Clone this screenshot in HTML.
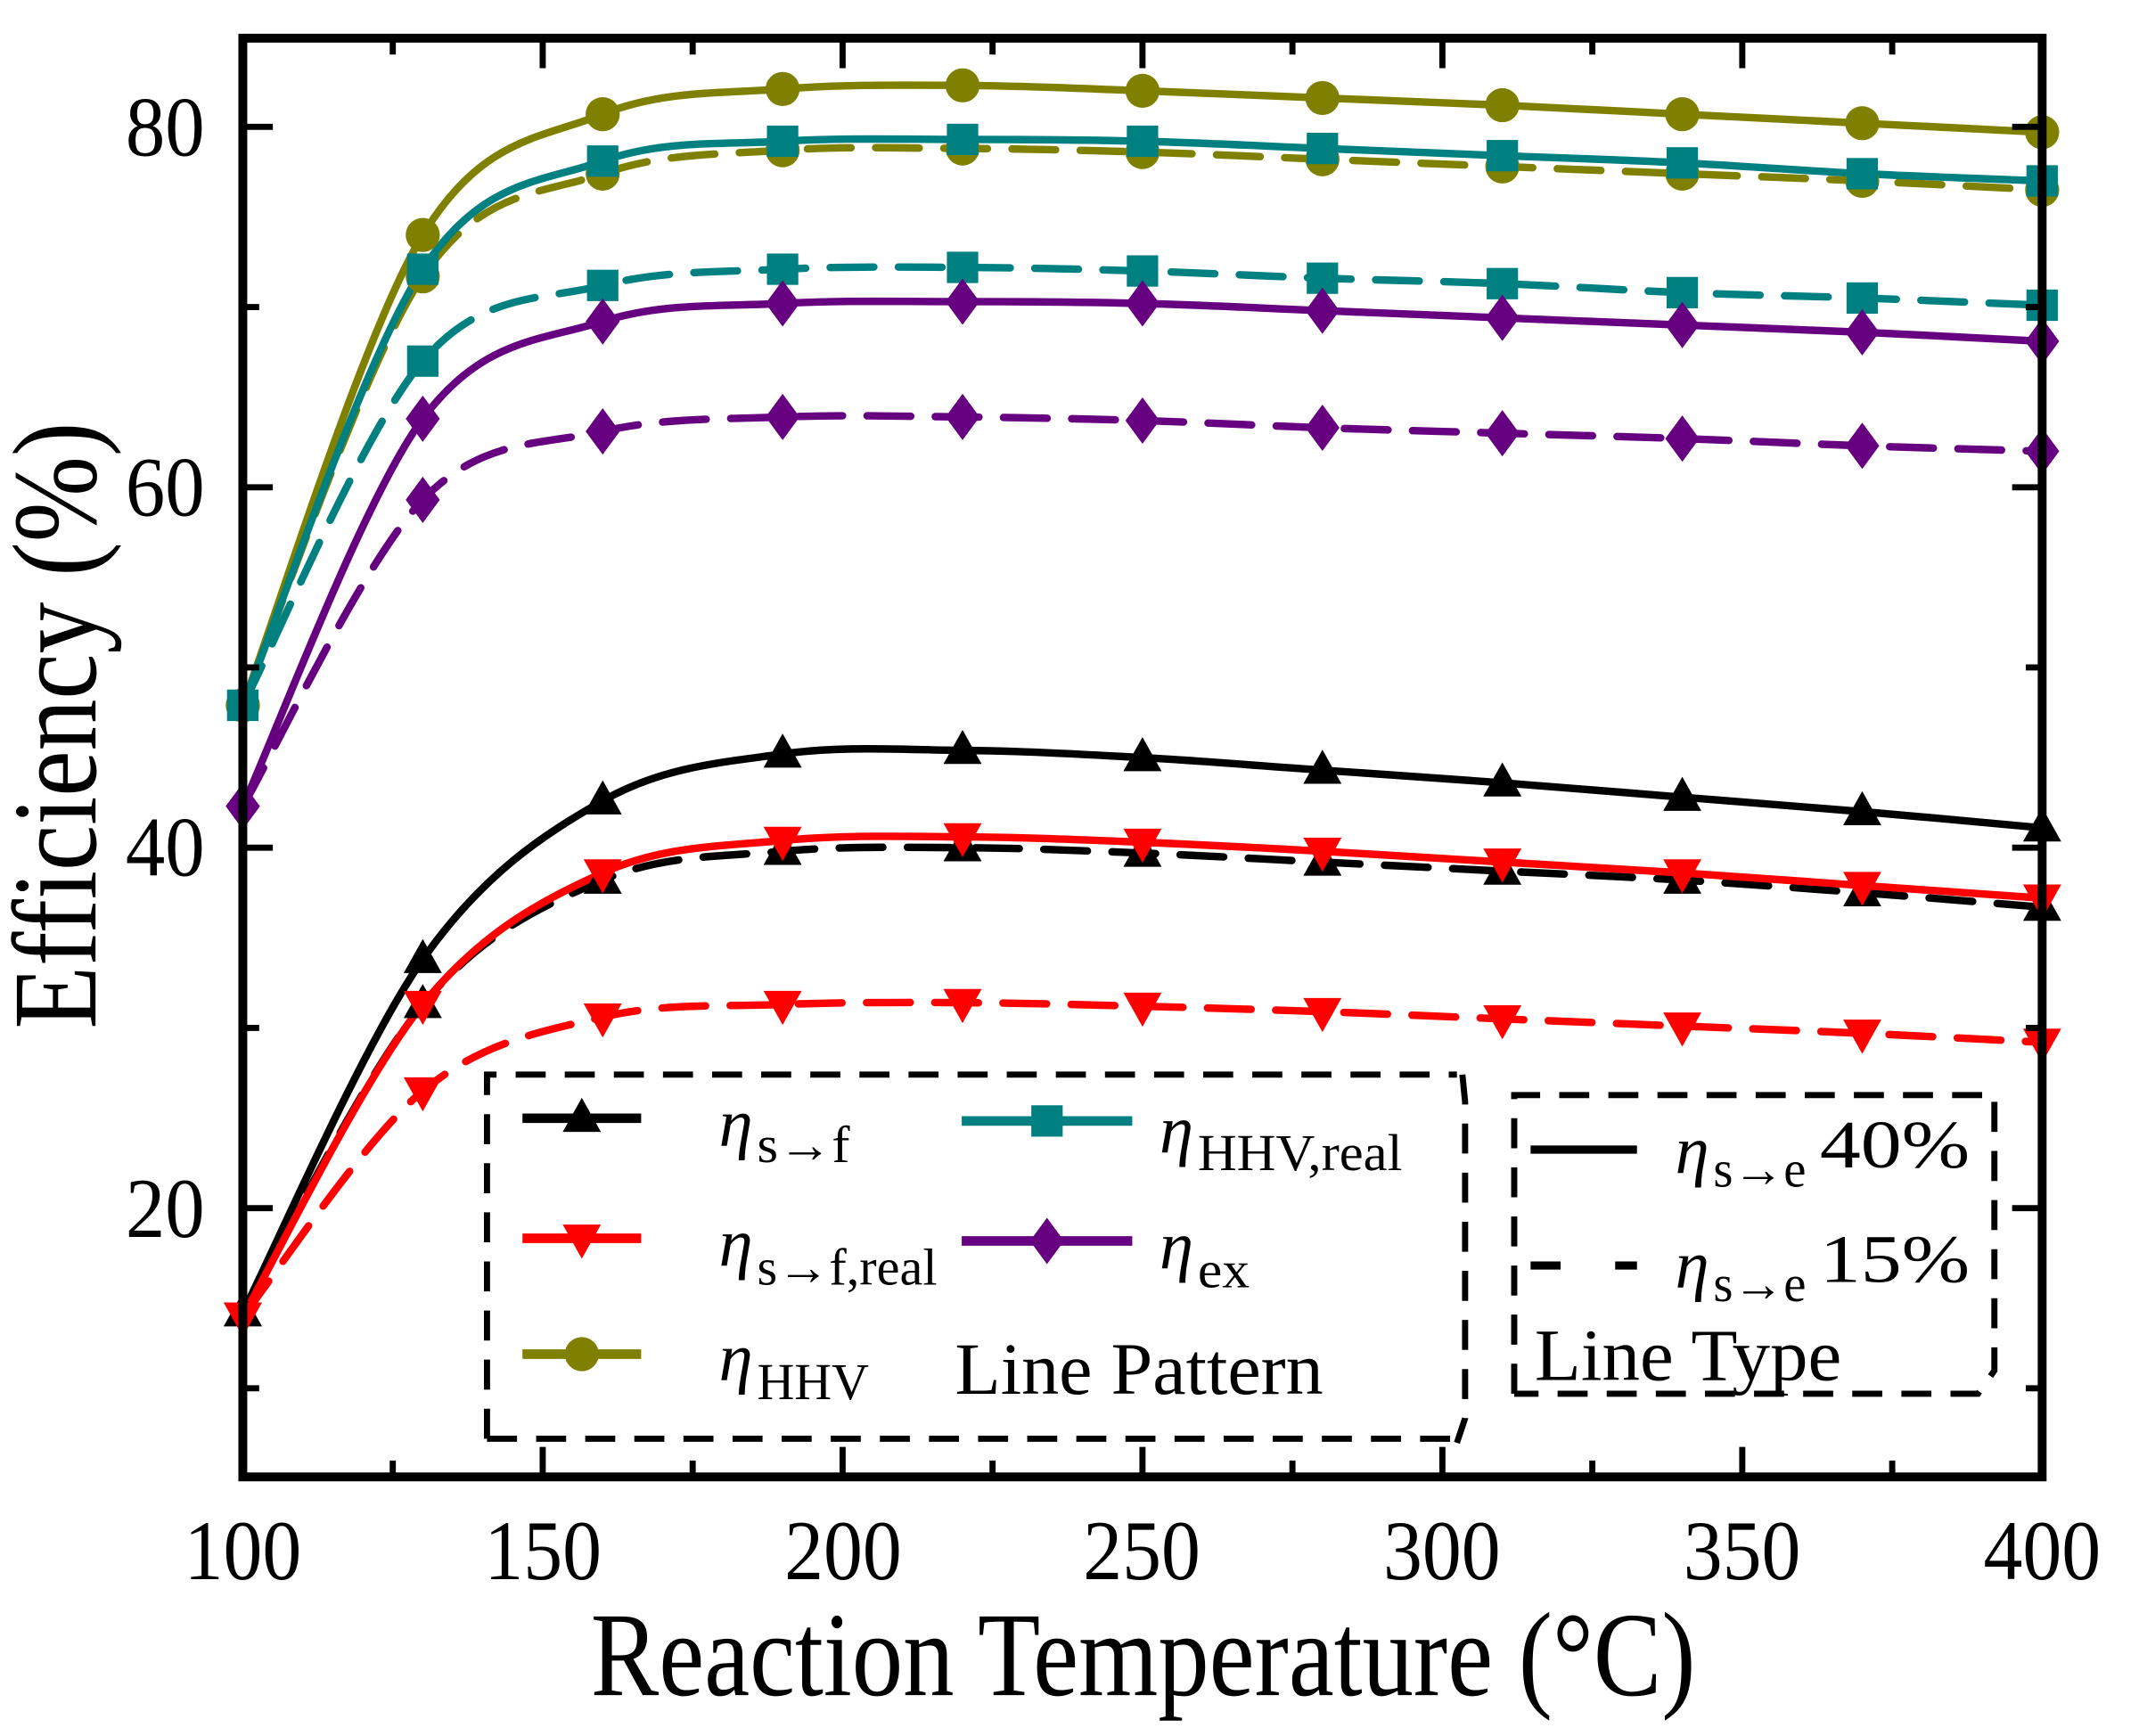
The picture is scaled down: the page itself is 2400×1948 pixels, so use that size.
<!DOCTYPE html>
<html><head><meta charset="utf-8"><style>
html,body{margin:0;padding:0;background:#fff;}
svg{display:block;}
text{font-family:"Liberation Serif",serif;fill:#000;}
</style></head><body>
<svg id="s" width="2400" height="1948" viewBox="0 0 1568 1273" preserveAspectRatio="none" xmlns="http://www.w3.org/2000/svg">
<rect width="1568" height="1273" fill="#fff"/>
<g id="curves"></g>
<g id="markers"></g>
<rect x="178" y="28" width="1319" height="1055" fill="none" stroke="#000" stroke-width="6.5"/>
<g id="ticks" stroke="#000" stroke-width="4.5"></g>
<g font-size="62" text-anchor="middle">
<text x="178" y="1158" textLength="86" lengthAdjust="spacingAndGlyphs">100</text>
<text x="398" y="1158" textLength="86" lengthAdjust="spacingAndGlyphs">150</text>
<text x="618" y="1158" textLength="86" lengthAdjust="spacingAndGlyphs">200</text>
<text x="837" y="1158" textLength="86" lengthAdjust="spacingAndGlyphs">250</text>
<text x="1057" y="1158" textLength="86" lengthAdjust="spacingAndGlyphs">300</text>
<text x="1277" y="1158" textLength="86" lengthAdjust="spacingAndGlyphs">350</text>
<text x="1497" y="1158" textLength="86" lengthAdjust="spacingAndGlyphs">400</text>
</g>
<g font-size="62" text-anchor="end">
<text x="150" y="114" textLength="58" lengthAdjust="spacingAndGlyphs">80</text>
<text x="150" y="378" textLength="58" lengthAdjust="spacingAndGlyphs">60</text>
<text x="150" y="642" textLength="58" lengthAdjust="spacingAndGlyphs">40</text>
<text x="150" y="907" textLength="58" lengthAdjust="spacingAndGlyphs">20</text>
</g>
<text x="838" y="1243" font-size="88" text-anchor="middle" textLength="810" lengthAdjust="spacingAndGlyphs">Reaction Temperature (°C)</text>
<text transform="translate(70,532) rotate(-90)" font-size="88" text-anchor="middle" textLength="445" lengthAdjust="spacingAndGlyphs">Efficiency (%)</text>

<path d="M357,1055 L357,788 L1068,788 L1075,808 L1075,1040 L1068,1055 Z" fill="#fff" stroke="none"/>
<g stroke="#000" stroke-width="4.5" fill="none" stroke-dasharray="22,14">
<path d="M357,1055 L357,788 L1068,788"/>
<path d="M1072,788 L1074,808 L1074,1040 L1068,1058"/>
<path d="M357,1055 L1068,1055"/>
</g>
<g id="leg1"></g>
<g font-size="50">
<text x="527" y="840" font-style="italic">η</text><text x="555" y="852" font-size="38" textLength="68" lengthAdjust="spacingAndGlyphs">s→f</text>
<text x="527" y="928" font-style="italic">η</text><text x="555" y="942" font-size="38" textLength="132" lengthAdjust="spacingAndGlyphs">s→f,real</text>
<text x="527" y="1012" font-style="italic">η</text><text x="555" y="1026" font-size="38" textLength="82" lengthAdjust="spacingAndGlyphs">HHV</text>
<text x="850" y="845" font-style="italic">η</text><text x="878" y="858" font-size="38" textLength="150" lengthAdjust="spacingAndGlyphs">HHV,real</text>
<text x="850" y="930" font-style="italic">η</text><text x="878" y="944" font-size="38" textLength="38" lengthAdjust="spacingAndGlyphs">ex</text>
<text x="700" y="1022" font-size="54" textLength="270" lengthAdjust="spacingAndGlyphs">Line Pattern</text>
</g>
<rect x="1110" y="803" width="352" height="219" fill="#fff"/>
<g stroke="#000" stroke-width="4.5" fill="none" stroke-dasharray="22,14">
<path d="M1110,1022 L1110,803 L1462,803 L1462,1005 L1450,1022 L1110,1022"/>
</g>
<line x1="1122" y1="843" x2="1200" y2="843" stroke="#000" stroke-width="6"/>
<line x1="1122" y1="928" x2="1200" y2="928" stroke="#000" stroke-width="6" stroke-dasharray="22,40"/>
<g font-size="50">
<text x="1228" y="860" font-style="italic">η</text><text x="1256" y="870" font-size="38" textLength="68" lengthAdjust="spacingAndGlyphs">s→e</text>
<text x="1334" y="856" textLength="110" lengthAdjust="spacingAndGlyphs">40%</text>
<text x="1228" y="944" font-style="italic">η</text><text x="1256" y="954" font-size="38" textLength="68" lengthAdjust="spacingAndGlyphs">s→e</text>
<text x="1334" y="940" textLength="110" lengthAdjust="spacingAndGlyphs">15%</text>
<text x="1125" y="1012" font-size="54" textLength="225" lengthAdjust="spacingAndGlyphs">Line Type</text>
</g>
</svg>
<script>
(function(){
var NS="http://www.w3.org/2000/svg";
function px(x){return 178+(x-100)*4.3967;}
function py(v){return 93+(80-v)*13.215;}
var X=[100,130,160,190,220,250,280,310,340,370,400];
var S=[
 {c:"#808000",m:"c",d:0,v:[47.9,74.0,80.7,82.1,82.3,82.0,81.6,81.2,80.7,80.2,79.7]},
 {c:"#808000",m:"c",d:1,v:[47.9,71.7,77.4,78.7,78.8,78.6,78.2,77.8,77.4,77.0,76.5]},
 {c:"#008080",m:"s",d:0,v:[47.9,72.1,78.1,79.2,79.3,79.2,78.8,78.4,78.0,77.4,77.0]},
 {c:"#008080",m:"s",d:1,v:[47.9,67.0,71.2,72.1,72.2,72.0,71.6,71.3,70.8,70.5,70.1]},
 {c:"#660080",m:"d",d:0,v:[42.3,63.8,69.2,70.2,70.3,70.2,69.8,69.4,69.0,68.6,68.1]},
 {c:"#660080",m:"d",d:1,v:[42.3,59.3,63.1,63.9,63.9,63.7,63.3,63.0,62.7,62.3,62.0]},
 {c:"#000000",m:"t",d:0,v:[14.2,33.8,42.6,45.2,45.4,45.0,44.3,43.6,42.8,42.0,41.1]},
 {c:"#000000",m:"t",d:1,v:[14.2,31.3,38.2,39.8,40.0,39.7,39.2,38.7,38.2,37.5,36.7]},
 {c:"#ff0000",m:"v",d:0,v:[14.0,31.3,38.6,40.4,40.6,40.3,39.8,39.2,38.6,37.9,37.2]},
 {c:"#ff0000",m:"v",d:1,v:[14.0,26.5,30.6,31.3,31.4,31.2,30.9,30.5,30.1,29.7,29.2]}
];
var cg=document.getElementById("curves"),mg=document.getElementById("markers");
function el(t,a,p){var e=document.createElementNS(NS,t);for(var k in a)e.setAttribute(k,a[k]);p.appendChild(e);return e;}
function marker(m,x,y,c,p){
 if(m=="c")el("circle",{cx:x,cy:y,r:12.5,fill:c},p);
 else if(m=="s")el("rect",{x:x-11.5,y:y-11.5,width:23,height:23,fill:c},p);
 else if(m=="d")el("polygon",{points:(x)+","+(y-17)+" "+(x+12.5)+","+y+" "+x+","+(y+17)+" "+(x-12.5)+","+y,fill:c},p);
 else if(m=="t")el("polygon",{points:x+","+(y-15)+" "+(x+14)+","+(y+10)+" "+(x-14)+","+(y+10),fill:c},p);
 else el("polygon",{points:x+","+(y+15)+" "+(x+14)+","+(y-10)+" "+(x-14)+","+(y-10),fill:c},p);
}
S.forEach(function(s){
 var P=X.map(function(x,i){return [px(x),py(s.v[i])];});
 var d="M"+P[0][0]+","+P[0][1];
 for(var i=0;i<P.length-1;i++){
  var p0=P[i>0?i-1:0],p1=P[i],p2=P[i+1],p3=P[i+2<P.length?i+2:i+1];
  var c1x=p1[0]+(p2[0]-p0[0])/6,c1y=p1[1]+(p2[1]-p0[1])/6;
  var c2x=p2[0]-(p3[0]-p1[0])/6,c2y=p2[1]-(p3[1]-p1[1])/6;
  d+=" C"+c1x+","+c1y+" "+c2x+","+c2y+" "+p2[0]+","+p2[1];
 }
 var a={d:d,fill:"none",stroke:s.c,"stroke-width":5.5,"stroke-linecap":"round"};
 if(s.d)a["stroke-dasharray"]="32,18";
 el("path",a,cg);
 P.forEach(function(p){marker(s.m,p[0],p[1],s.c,mg);});
});
var tg=document.getElementById("ticks");
for(var x=100;x<=400;x+=25){var major=(x%50==0);var L=major?22:12;var xx=px(x);
 el("line",{x1:xx,y1:1083,x2:xx,y2:1083-L},tg);el("line",{x1:xx,y1:28,x2:xx,y2:28+L},tg);}
for(var v=10;v<=80;v+=10){var major=(v%20==0);var L=major?22:12;var yy=py(v);
 el("line",{x1:178,y1:yy,x2:178+L,y2:yy},tg);el("line",{x1:1497,y1:yy,x2:1497-L,y2:yy},tg);}
var lg=document.getElementById("leg1");
var L=[[383,470,820,"#000","t"],[383,470,908,"#ff0000","v"],[383,470,993,"#808000","c"],[705,830,822,"#008080","s"],[705,830,910,"#660080","d"]];
L.forEach(function(l){el("line",{x1:l[0],y1:l[2],x2:l[1],y2:l[2],stroke:l[3],"stroke-width":7},lg);marker(l[4],(l[0]+l[1])/2,l[2],l[3],lg);});
})();
</script>
</body></html>
